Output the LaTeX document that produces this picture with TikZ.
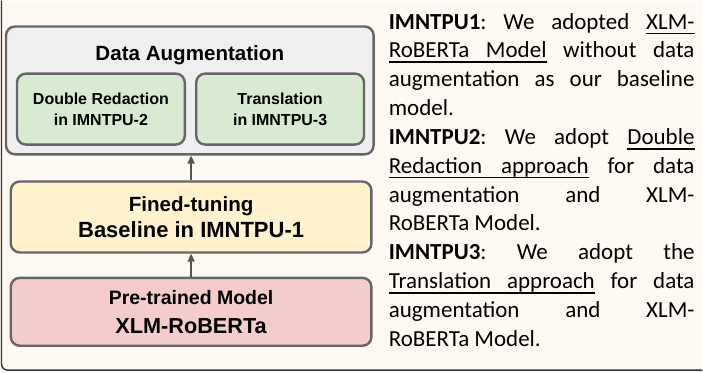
\documentclass[tikz,border=0pt]{standalone}
\usepackage{fontspec}
\setmainfont{Carlito}
\newfontfamily\arialfont{Liberation Sans}
\usetikzlibrary{positioning,calc,arrows.meta}
\definecolor{pagebg}{HTML}{FFF9F4}
\definecolor{edgegray}{HTML}{666666}
\definecolor{auggray}{HTML}{EFEFEF}
\definecolor{redgreen}{HTML}{D9EAD3}
\definecolor{tuneyellow}{HTML}{FFF2CC}
\definecolor{modelpink}{HTML}{F4CCCC}
\definecolor{arrowgray}{HTML}{555555}
\definecolor{framegray}{HTML}{333333}
% underlined word and underlined (stretchable) space
\newcommand\ulw[1]{\setbox0\hbox{#1}\hbox{\rlap{\vrule height -3.4pt depth 5.2pt width \wd0}\box0}}
\newcommand\uls{\leaders\hrule height -3.4pt depth 5.2pt\hskip\fontdimen2\font plus \fontdimen3\font minus \fontdimen4\font\relax}
\frenchspacing
\tikzset{
  stagebox/.style={draw=edgegray, line width=2.4pt, rounded corners=9pt,
    align=center, inner sep=0pt, font=\arialfont\bfseries},
  uparrow/.style={draw=arrowgray, line width=1.6pt,
    -{Triangle[length=8pt,width=7pt]}},
}
\begin{document}
\begin{tikzpicture}[x=1pt,y=-1pt]
 \fill[pagebg] (0,0) rectangle (703,372);
 \draw[framegray, line width=1.4pt, rounded corners=6pt] (1.5,0) -- (1.5,369.8) -- (703,369.8);
 %
 \node[stagebox, fill=auggray, minimum width=368pt, minimum height=128pt] (aug) at (190,89.8) {};
 \node[font=\arialfont\bfseries\fontsize{20.6}{24}\selectfont, anchor=base] (augtitle) at (190,59.4) {Data Augmentation};
 \node[stagebox, fill=redgreen, minimum width=168pt, minimum height=71pt,
   font=\arialfont\bfseries\fontsize{16}{20.7}\selectfont] (redaction) at (101,108.5) {Double Redaction\\in IMNTPU-2};
 \node[stagebox, fill=redgreen, minimum width=168pt, minimum height=71pt,
   font=\arialfont\bfseries\fontsize{16}{20.7}\selectfont, right=9pt of redaction] (translation) {Translation\\in IMNTPU-3};
 %
 \node[stagebox, fill=tuneyellow, minimum width=361pt, minimum height=71pt,
   font=\arialfont\bfseries\fontsize{20.6}{26.7}\selectfont] (finetune) at (191.3,216.5)
   {Fined-tuning\\{\fontsize{22}{26.7}\selectfont Baseline in IMNTPU-1}};
 \node[stagebox, fill=modelpink, minimum width=361pt, minimum height=68pt,
   font=\arialfont\bfseries\fontsize{19.5}{28.7}\selectfont, below=23pt of finetune] (pretrained)
   {Pre-trained Model\\{\fontsize{21.7}{28.7}\selectfont XLM-RoBERTa}};
 %
 \draw[uparrow] (finetune.north) -- (finetune.north |- aug.south);
 \draw[uparrow] (pretrained.north) -- (finetune.south);
 %
 \node[anchor=north west, inner sep=0pt, text width=306pt, align=justify,
   font=\fontsize{23}{28.85}\selectfont] (notes) at (389,8.1)
   {\strut\textbf{IMNTPU1}: We adopted \ulw{XLM-}\linebreak
    \ulw{RoBERTa}\uls\ulw{Model} without data\linebreak
    augmentation as our baseline\linebreak
    model.\\
    \textbf{IMNTPU2}: We adopt \ulw{Double}\linebreak
    \ulw{Redaction}\uls\ulw{approach} for data\linebreak
    augmentation and XLM-\linebreak
    RoBERTa Model.\\
    \textbf{IMNTPU3}: We adopt the\linebreak
    \ulw{Translation}\uls\ulw{approach} for data\linebreak
    augmentation and XLM-\linebreak
    RoBERTa Model.};
\end{tikzpicture}
\end{document}
